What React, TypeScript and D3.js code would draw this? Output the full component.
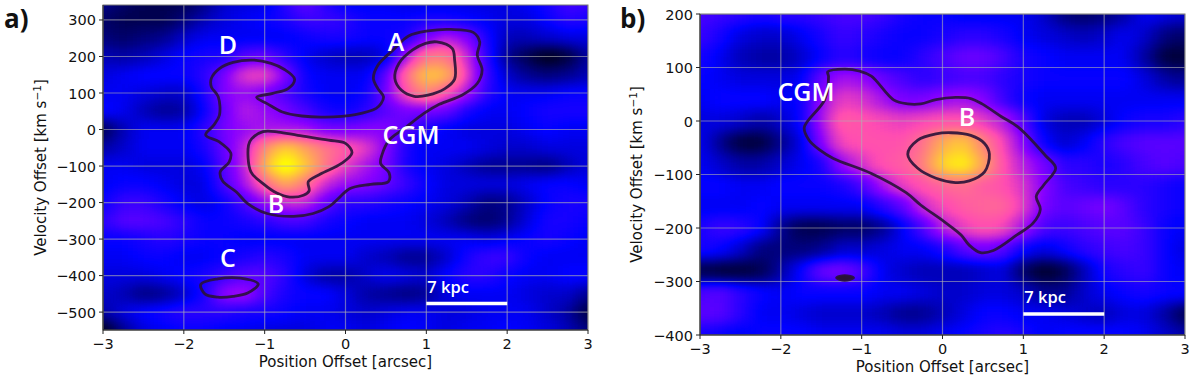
import React from "react";
import * as d3 from "d3";

const positionTicks = [-3, -2, -1, 0, 1, 2, 3];
const velocityTicksA = [300, 200, 100, 0, -100, -200, -300, -400, -500];
const velocityTicksB = [200, 100, 0, -100, -200, -300, -400];
const positionCells = d3.range(25).map((i) => -3 + i * 0.25);
const velocityCellsA = d3.range(19).map((i) => 350 - i * 50);
const velocityCellsB = d3.range(16).map((i) => 200 - i * 40);

const fluxA = [
  [14,10,8,8,8,12,20,22,22,30,38,30,24,24,24,22,22,22,22,22,22,24,28,34,32],
  [10,8,8,8,12,18,22,24,26,28,32,32,30,26,26,26,28,28,26,24,22,22,26,30,28],
  [12,10,12,14,20,24,24,24,24,24,26,28,28,26,26,28,40,48,42,28,18,18,20,22,22],
  [18,16,18,22,26,28,28,36,38,30,24,20,18,18,22,46,66,66,50,30,14,8,2,6,16],
  [22,24,26,26,26,30,40,54,56,42,26,24,24,24,36,64,82,78,54,32,20,14,12,14,18],
  [24,24,22,20,20,28,42,44,40,34,28,24,24,26,40,58,70,58,46,30,24,24,24,26,26],
  [26,24,18,14,16,26,38,48,44,40,34,28,26,30,36,40,40,38,28,24,24,26,28,28,28],
  [8,18,24,24,24,30,40,44,46,46,46,40,40,42,42,36,28,24,22,22,22,24,26,24,24],
  [16,20,24,24,24,28,38,48,70,84,74,66,60,54,42,28,24,24,24,22,20,20,22,22,22],
  [24,24,22,22,22,24,36,48,78,98,82,66,54,46,40,28,24,22,18,14,14,14,12,18,22],
  [24,26,26,24,22,22,34,46,62,76,66,50,44,42,38,32,26,22,22,22,22,24,26,26,24],
  [26,32,32,28,24,22,26,34,44,50,50,38,30,30,28,26,24,22,18,12,14,20,26,28,28],
  [30,36,36,34,30,26,26,28,30,34,34,28,26,24,24,24,22,18,12,10,14,22,28,28,26],
  [26,26,28,30,28,26,26,24,24,24,24,24,24,24,24,24,24,24,24,22,24,26,28,26,24],
  [24,24,26,26,24,24,26,28,30,28,24,24,24,20,18,14,14,20,28,32,32,26,24,24,24],
  [22,22,22,24,26,28,32,36,36,30,22,16,16,20,24,22,20,26,30,30,26,24,24,26,26],
  [20,18,12,14,20,28,44,46,34,28,26,26,22,16,14,12,14,22,24,24,24,22,20,20,14],
  [16,22,26,28,30,30,30,28,28,26,24,24,22,20,22,24,24,22,22,24,24,24,20,16,6],
  [2,14,22,24,26,26,24,24,22,22,22,24,24,22,24,26,24,22,24,24,26,24,22,18,12],
];

const fluxB = [
  [34,32,30,28,30,30,32,34,34,32,28,26,26,24,24,24,24,20,12,10,12,16,24,22,20],
  [32,28,22,20,20,24,28,32,30,28,26,26,28,30,30,28,24,22,20,18,20,24,20,12,10],
  [28,24,18,16,16,20,26,30,28,26,26,30,34,38,38,34,28,26,24,24,24,24,16,6,6],
  [26,24,22,22,22,24,38,46,44,38,34,30,32,34,34,30,28,26,26,26,26,26,22,16,14],
  [24,26,26,26,24,26,44,54,52,46,40,40,44,46,42,32,26,24,24,24,24,24,24,24,24],
  [22,22,20,16,20,26,46,60,58,56,54,56,58,58,54,48,36,22,18,18,22,26,28,28,30],
  [24,14,6,6,14,22,42,56,58,58,58,64,76,82,68,56,42,26,20,24,30,34,36,36,36],
  [24,20,16,16,20,24,28,44,52,58,60,66,84,90,74,58,48,40,30,30,28,30,34,36,34],
  [26,26,24,24,26,26,26,28,34,46,54,58,62,64,60,58,52,42,34,32,30,30,30,28,26],
  [24,24,24,26,24,24,24,24,24,30,36,50,56,60,62,62,54,40,36,38,40,36,30,28,26],
  [28,32,30,26,14,8,8,10,10,14,24,34,48,54,58,56,46,34,32,34,36,36,32,26,24],
  [28,26,20,12,12,12,14,20,20,22,24,24,28,36,40,36,26,22,26,30,32,34,32,26,22],
  [8,6,6,8,16,26,38,40,34,24,20,18,18,18,20,22,10,4,8,18,28,30,32,26,24],
  [34,36,30,26,24,26,26,26,26,24,24,22,20,20,22,22,20,14,14,20,24,26,28,26,26],
  [36,36,30,24,24,22,20,20,20,18,14,14,18,22,26,26,24,24,22,20,18,22,22,16,8],
  [28,26,24,26,26,26,24,24,24,24,22,22,24,26,28,30,28,24,26,26,26,26,24,20,16],
];

type Pt = [number, number];
const contourAOuter: Pt[] = [[-1.1,88],[-.97,71],[-.78,48],[-.54,37],[-.26,34],[.12,41],[.38,58],[.44,71],[.47,90],[.4,112],[.345,140],[.4,176],[.59,218],[.78,256],[1.02,270],[1.3,274],[1.58,266],[1.66,240],[1.63,204],[1.69,163],[1.63,126],[1.44,94],[1.16,69],[.97,44],[.73,3],[.54,-29],[.45,-70],[.435,-93],[.54,-119],[.53,-143],[.31,-150],[.05,-162],[-.07,-185],[-.21,-212],[-.4,-230],[-.64,-238],[-.97,-230],[-1.21,-203],[-1.35,-171],[-1.52,-141],[-1.55,-116],[-1.44,-89],[-1.42,-64],[-1.56,-34],[-1.73,-15],[-1.63,12],[-1.56,39],[-1.575,90],[-1.66,117],[-1.66,140],[-1.56,167],[-1.39,184],[-1.13,190],[-.92,181],[-.76,165],[-.63,138],[-.71,112],[-.9,99]];
const contourAInnerB: Pt[] = [[-1.02,-6],[-1.16,-25],[-1.2,-43],[-1.17,-116],[-1.02,-148],[-.85,-174],[-.69,-185],[-.52,-180],[-.45,-168],[-.46,-143],[-.31,-122],[-.05,-93],[.08,-64],[0,-38],[-.21,-29],[-.59,-16],[-.83,-7]];
const contourAInnerA: Pt[] = [[1.13,240],[1.32,222],[1.35,190],[1.35,138],[1.23,112],[1.02,94],[.85,91],[.69,108],[.61,140],[.66,181],[.83,218],[.99,236]];
const contourAC: Pt[] = [[-1.79,-424],[-1.58,-409],[-1.3,-407],[-1.08,-423],[-1.21,-448],[-1.39,-457],[-1.58,-459],[-1.74,-450]];
const contourBOuter: Pt[] = [[-1.42,92],[-1.21,97],[-1.02,93],[-.88,84],[-.6,39],[-.43,32],[-.27,32],[-.08,40],[.16,44],[.35,42],[.49,32],[.73,8],[.94,-12],[1.27,-64],[1.4,-88],[1.25,-120],[1.16,-141],[1.21,-165],[1.12,-191],[.92,-213],[.63,-242],[.47,-246],[.33,-232],[.23,-213],[.02,-188],[-.27,-157],[-.45,-134],[-.88,-98],[-1.35,-70],[-1.52,-54],[-1.65,-36],[-1.71,-12],[-1.46,39],[-1.41,83]];
const contourBInner: Pt[] = [[-.43,-62],[-.31,-36],[-.08,-24],[.11,-22],[.35,-27],[.52,-42],[.58,-62],[.52,-95],[.33,-112],[.16,-115],[-.08,-107],[-.31,-88]];
const contourBSpot: Pt[] = [[-1.31,-293],[-1.21,-289],[-1.1,-293],[-1.21,-298]];

const sans = "'DejaVu Sans', sans-serif";
const labelFont = "'Open Sans', 'Noto Sans', sans-serif";

function gnuplot2(x: number): [number, number, number] {
  const c = (v: number) => Math.max(0, Math.min(1, v));
  const r = c(x / 0.32 - 0.78125);
  const g = c(2 * x - 0.84);
  const b = x < 0.25 ? c(4 * x) : x < 0.92 ? c(-2 * x + 1.84) : c(x / 0.08 - 11.5);
  return [r, g, b];
}
const tableSteps = d3.range(0, 256).map((i) => gnuplot2(i / 255));
const channel = (k: number) => tableSteps.map((t) => t[k].toFixed(4)).join(" ");

type Note = { t: string; x: number; y: number };

type PanelProps = {
  id: string;
  box: { l: number; r: number; t: number; b: number };
  xDomain: [number, number];
  yDomain: [number, number];
  yTicks: number[];
  rows: number[];
  flux: number[][];
  contours: Pt[][];
  notes: Note[];
  tag: string;
  tagX: number;
  barY: number;
  yLabelX: number;
  xTickY: number;
  xLabelY: number;
};

function Panel(p: PanelProps) {
  const x = d3.scaleLinear().domain(p.xDomain).range([p.box.l, p.box.r]);
  const y = d3.scaleLinear().domain(p.yDomain).range([p.box.t, p.box.b]);
  const line = d3
    .line<Pt>()
    .x((d) => x(d[0]))
    .y((d) => y(d[1]))
    .curve(d3.curveCatmullRomClosed.alpha(0.5));
  const rowStep = Math.abs(p.rows[1] - p.rows[0]);
  const pad = 40;
  return (
    <g>
      <defs>
        <clipPath id={`clip-${p.id}`}>
          <rect x={p.box.l} y={p.box.t} width={p.box.r - p.box.l} height={p.box.b - p.box.t} />
        </clipPath>
      </defs>
      <g clipPath={`url(#clip-${p.id})`}>
        <g filter="url(#heat)">
          {p.flux.map((row, j) =>
            row.map((v, i) => {
              let x0 = x(positionCells[i] - 0.125);
              let x1 = x(positionCells[i] + 0.125);
              let y0 = y(p.rows[j] + rowStep / 2);
              let y1 = y(p.rows[j] - rowStep / 2);
              if (i === 0) x0 -= pad;
              if (i === row.length - 1) x1 += pad;
              if (j === 0) y0 -= pad;
              if (j === p.flux.length - 1) y1 += pad;
              const g = Math.round((v / 100) * 255);
              return (
                <rect key={`${i}-${j}`} x={x0} y={y0} width={x1 - x0 + 0.5} height={y1 - y0 + 0.5} fill={`rgb(${g},${g},${g})`} shapeRendering="crispEdges" />
              );
            })
          )}
        </g>
        {positionTicks.map((t) => (
          <line key={t} x1={x(t)} x2={x(t)} y1={p.box.t} y2={p.box.b} stroke="#b0b0b0" strokeOpacity={0.6} strokeWidth={1.2} />
        ))}
        {p.yTicks.map((t) => (
          <line key={t} x1={p.box.l} x2={p.box.r} y1={y(t)} y2={y(t)} stroke="#b0b0b0" strokeOpacity={0.6} strokeWidth={1.2} />
        ))}
        {p.contours.map((c, i) => (
          <path key={i} d={line(c) ?? ""} fill={i === 2 && p.id === "b" ? "#2a1238" : "none"} stroke="#2a1238" strokeOpacity={0.9} strokeWidth={2.8} strokeLinejoin="round" />
        ))}
      </g>
      <rect x={p.box.l} y={p.box.t} width={p.box.r - p.box.l} height={p.box.b - p.box.t} fill="none" stroke="#777" strokeWidth={1} />
      <line x1={p.box.l} x2={p.box.l} y1={p.box.t} y2={p.box.b} stroke="#222" />
      <line x1={p.box.l} x2={p.box.r} y1={p.box.b} y2={p.box.b} stroke="#222" />
      {positionTicks.map((t) => (
        <g key={t}>
          <line x1={x(t)} x2={x(t)} y1={p.box.b} y2={p.box.b + 4} stroke="#222" />
          <text x={x(t)} y={p.xTickY} textAnchor="middle" fontFamily={sans} fontSize={14.5} fill="#111">
            {t < 0 ? `\u2212${-t}` : t}
          </text>
        </g>
      ))}
      {p.yTicks.map((t) => (
        <g key={t}>
          <line x1={p.box.l - 4} x2={p.box.l} y1={y(t)} y2={y(t)} stroke="#222" />
          <text x={p.box.l - 7} y={y(t) + 5.5} textAnchor="end" fontFamily={sans} fontSize={14.5} fill="#111">
            {t < 0 ? `\u2212${-t}` : t}
          </text>
        </g>
      ))}
      <text x={(p.box.l + p.box.r) / 2} y={p.xLabelY} textAnchor="middle" fontFamily={sans} fontSize={15} fill="#111">
        Position Offset [arcsec]
      </text>
      <text
        transform={`translate(${p.yLabelX},${(p.box.t + p.box.b) / 2}) rotate(-90)`}
        textAnchor="middle"
        fontFamily={sans}
        fontSize={15}
        fill="#111"
      >
        Velocity Offset [km s
        <tspan dy={-5} fontSize={10.5}>{"\u22121"}</tspan>
        <tspan dy={5}>]</tspan>
      </text>
      {p.notes.map((n) => (
        <text key={n.t} x={n.x} y={n.y} textAnchor="middle" fontFamily={labelFont} fontWeight={600} fontSize={25} fill="#fff">
          {n.t}
        </text>
      ))}
      <line x1={x(1)} x2={x(2)} y1={p.barY} y2={p.barY} stroke="#fff" strokeWidth={3.5} />
      <text x={x(1) + 1} y={p.barY - 11} fontFamily={labelFont} fontWeight={600} fontSize={16.5} fill="#fff">
        7 kpc
      </text>
      <text x={p.tagX} y={28} fontFamily={labelFont} fontWeight={700} fontSize={26} fill="#111">
        {p.tag}
      </text>
    </g>
  );
}

export default function App() {
  return (
    <svg
      width={1200}
      height={378}
      viewBox="0 0 1200 378"
      style={{ position: "absolute", left: 0, top: 0, background: "#fff" }}
    >
      <defs>
        <filter id="heat" filterUnits="userSpaceOnUse" x={0} y={-60} width={1200} height={500} colorInterpolationFilters="sRGB">
          <feGaussianBlur stdDeviation="9 6.5" />
          <feComponentTransfer>
            <feFuncR type="table" tableValues={channel(0)} />
            <feFuncG type="table" tableValues={channel(1)} />
            <feFuncB type="table" tableValues={channel(2)} />
          </feComponentTransfer>
        </filter>
      </defs>
      <Panel
        id="a"
        box={{ l: 103, r: 588, t: 5, b: 330 }}
        xDomain={[-3, 3]}
        yDomain={[341, -549]}
        yTicks={velocityTicksA}
        rows={velocityCellsA}
        flux={fluxA}
        contours={[contourAOuter, contourAInnerB, contourAInnerA, contourAC]}
        notes={[
          { t: "D", x: 228, y: 54 },
          { t: "A", x: 396, y: 51 },
          { t: "CGM", x: 411, y: 144 },
          { t: "B", x: 276, y: 213 },
          { t: "C", x: 228, y: 267 },
        ]}
        tag="a)"
        tagX={4}
        barY={303.5}
        yLabelX={46}
        xTickY={349}
        xLabelY={367}
      />
      <Panel
        id="b"
        box={{ l: 700, r: 1185, t: 14, b: 335 }}
        xDomain={[-3, 3]}
        yDomain={[200, -400]}
        yTicks={velocityTicksB}
        rows={velocityCellsB}
        flux={fluxB}
        contours={[contourBOuter, contourBInner, contourBSpot]}
        notes={[
          { t: "CGM", x: 806, y: 101 },
          { t: "B", x: 967, y: 126 },
        ]}
        tag="b)"
        tagX={620}
        barY={314}
        yLabelX={642}
        xTickY={354}
        xLabelY={372}
      />
    </svg>
  );
}
